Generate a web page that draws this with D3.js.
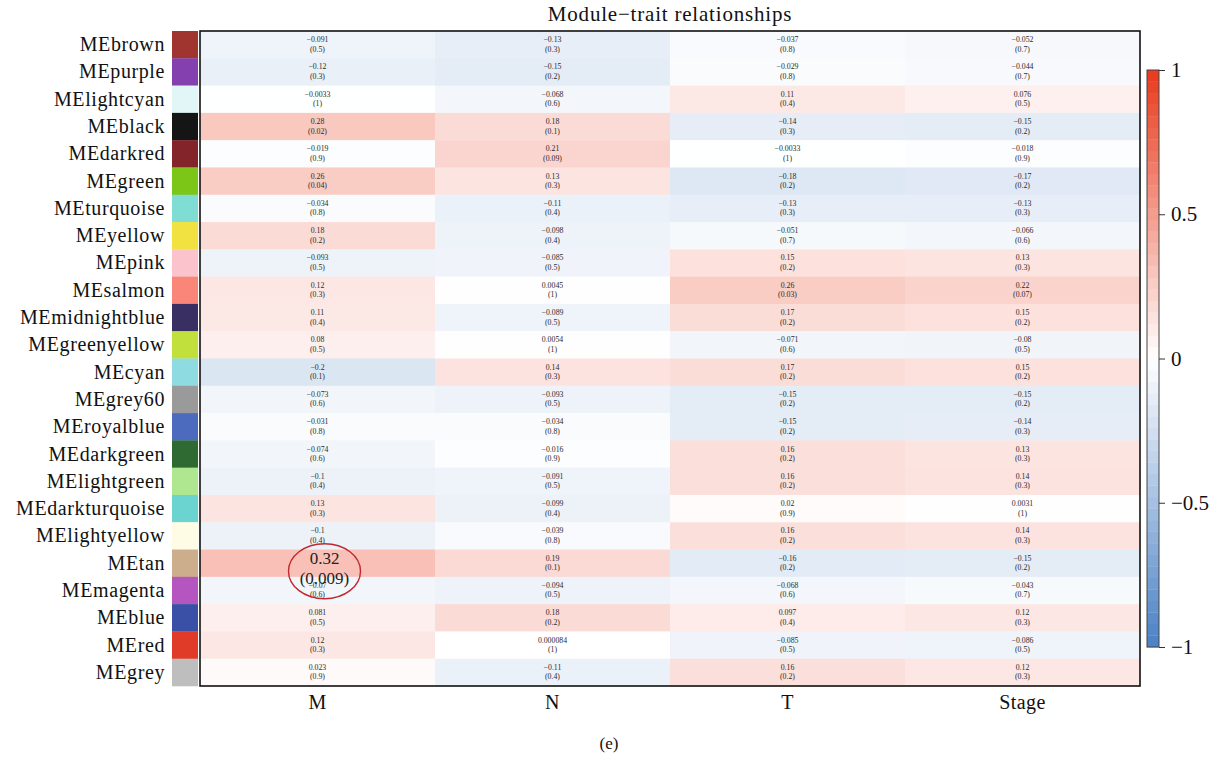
<!DOCTYPE html>
<html>
<head>
<meta charset="utf-8">
<script src="https://cdn.jsdelivr.net/npm/d3@7"></script>
<style>
  html, body { margin: 0; padding: 0; background: #fff; }
  svg { display: block; font-family: "Liberation Serif", "DejaVu Serif", serif; }
</style>
</head>
<body>
<svg id="chart" width="1217" height="757"></svg>
<script>
// Module eigengenes (rows) and clinical traits (columns)
const modules = ["MEbrown","MEpurple","MElightcyan","MEblack","MEdarkred","MEgreen","MEturquoise","MEyellow","MEpink","MEsalmon","MEmidnightblue","MEgreenyellow","MEcyan","MEgrey60","MEroyalblue","MEdarkgreen","MElightgreen","MEdarkturquoise","MElightyellow","MEtan","MEmagenta","MEblue","MEred","MEgrey"];
const moduleColors = ["#a0352f","#8540b0","#e2f6f8","#151515","#82242a","#7cc618","#80ddd3","#f1e242","#fbc4cd","#f98678","#3a2f63","#c2e03c","#8fdbe2","#9a9a9a","#4c6bbf","#2f6a33","#aee78f","#6bd3d0","#fefce4","#cdae8c","#b555c0","#3a4fa6","#e03a28","#bebebe"];
const traits = ["M","N","T","Stage"];

// Correlation per trait, in module order
const corM     = ["-0.091","-0.12","-0.0033","0.28","-0.019","0.26","-0.034","0.18","-0.093","0.12","0.11","0.08","-0.2","-0.073","-0.031","-0.074","-0.1","0.13","-0.1","0.32","-0.07","0.081","0.12","0.023"];
const corN     = ["-0.13","-0.15","-0.068","0.18","0.21","0.13","-0.11","-0.098","-0.085","0.0045","-0.089","0.0054","0.14","-0.093","-0.034","-0.016","-0.091","-0.099","-0.039","0.19","-0.094","0.18","0.000084","-0.11"];
const corT     = ["-0.037","-0.029","0.11","-0.14","-0.0033","-0.18","-0.13","-0.051","0.15","0.26","0.17","-0.071","0.17","-0.15","-0.15","0.16","0.16","0.02","0.16","-0.16","-0.068","0.097","-0.085","0.16"];
const corStage = ["-0.052","-0.044","0.076","-0.15","-0.018","-0.17","-0.13","-0.066","0.13","0.22","0.15","-0.08","0.15","-0.15","-0.14","0.13","0.14","0.0031","0.14","-0.15","-0.043","0.12","-0.086","0.12"];

// P-values per trait, in module order
const pM     = ["0.5","0.3","1","0.02","0.9","0.04","0.8","0.2","0.5","0.3","0.4","0.5","0.1","0.6","0.8","0.6","0.4","0.3","0.4","0.009","0.6","0.5","0.3","0.9"];
const pN     = ["0.3","0.2","0.6","0.1","0.09","0.3","0.4","0.4","0.5","1","0.5","1","0.3","0.5","0.8","0.9","0.5","0.4","0.8","0.1","0.5","0.2","1","0.4"];
const pT     = ["0.8","0.8","0.4","0.3","1","0.2","0.3","0.7","0.2","0.03","0.2","0.6","0.2","0.2","0.2","0.2","0.2","0.9","0.2","0.2","0.6","0.4","0.5","0.2"];
const pStage = ["0.7","0.7","0.5","0.2","0.9","0.2","0.3","0.6","0.3","0.07","0.2","0.5","0.2","0.2","0.3","0.3","0.3","1","0.3","0.2","0.7","0.3","0.5","0.3"];

const legendTicks = [1, 0.5, 0, -0.5, -1];
const highlight = { module: "MEtan", trait: "M" };

const corByTrait = { M: corM, N: corN, T: corT, Stage: corStage };
const pByTrait = { M: pM, N: pN, T: pT, Stage: pStage };

const cells = [];
traits.forEach(t => modules.forEach((m, i) => {
  cells.push({ module: m, trait: t, r: +corByTrait[t][i], rText: corByTrait[t][i], p: pByTrait[t][i] });
}));

const svg = d3.select("#chart");
const plotLeft = 200, plotRight = 1140, plotTop = 31, plotBottom = 686;

const x = d3.scaleBand().domain(traits).range([plotLeft, plotRight]);
const y = d3.scaleBand().domain(modules).range([plotTop, plotBottom]);
const color = d3.scaleLinear().domain([-1, 0, 1]).range(["#4a80c4", "#ffffff", "#e8391b"]);

const fmt = s => s.replace("-", "\u2212");

// Title
svg.append("text").attr("x", 670).attr("y", 21)
  .attr("text-anchor", "middle").attr("font-size", 21).attr("letter-spacing", 0.8).attr("fill", "#111")
  .text("Module\u2212trait relationships");

// Heatmap cells
svg.append("g").selectAll("rect").data(cells).join("rect")
  .attr("x", d => x(d.trait)).attr("y", d => y(d.module))
  .attr("width", x.bandwidth() + 0.5).attr("height", y.bandwidth() + 0.5)
  .attr("fill", d => color(d.r));

// Cell labels: correlation and (p-value)
const labels = svg.append("g").attr("fill", "#2a2a2a").attr("text-anchor", "middle").attr("font-size", 7.8);
cells.filter(d => !(d.module === highlight.module && d.trait === highlight.trait)).forEach(d => {
  const cx = x(d.trait) + x.bandwidth() / 2;
  const cy = y(d.module) + y.bandwidth() / 2;
  labels.append("text").attr("x", cx).attr("y", cy - 2.5).text(fmt(d.rText));
  labels.append("text").attr("x", cx).attr("y", cy + 7).text("(" + d.p + ")");
});

// Frame
svg.append("rect").attr("x", plotLeft).attr("y", plotTop).attr("width", plotRight - plotLeft).attr("height", plotBottom - plotTop)
  .attr("fill", "none").attr("stroke", "#111").attr("stroke-width", 1.6);

// Module colour swatches and names
svg.append("g").selectAll("rect").data(modules).join("rect")
  .attr("x", 172).attr("y", d => y(d)).attr("width", 26).attr("height", y.bandwidth() + 0.3)
  .attr("fill", (d, i) => moduleColors[i]);
svg.append("g").selectAll("text").data(modules).join("text")
  .attr("x", 165).attr("y", d => y(d) + y.bandwidth() / 2 + 6.5)
  .attr("text-anchor", "end").attr("font-size", 20).attr("letter-spacing", 0.6).attr("fill", "#111")
  .text(d => d);

// Trait names
svg.append("g").selectAll("text").data(traits).join("text")
  .attr("x", d => x(d) + x.bandwidth() / 2).attr("y", 709)
  .attr("text-anchor", "middle").attr("font-size", 20).attr("letter-spacing", 0.4).attr("fill", "#111")
  .text(d => d);

// Highlighted cell: enlarged values and ellipse
{
  const i = modules.indexOf(highlight.module);
  const cx = x(highlight.trait) + x.bandwidth() / 2 + 7;
  const cy = y(highlight.module) + y.bandwidth() / 2;
  const hl = svg.append("g").attr("text-anchor", "middle").attr("font-size", 17).attr("fill", "#222");
  hl.append("text").attr("x", cx).attr("y", cy + 0.5).text(corByTrait[highlight.trait][i]);
  hl.append("text").attr("x", cx).attr("y", cy + 21).text("(" + pByTrait[highlight.trait][i] + ")");
  svg.append("ellipse").attr("cx", cx).attr("cy", cy + 8).attr("rx", 36).attr("ry", 27.5)
    .attr("fill", "none").attr("stroke", "#c1272d").attr("stroke-width", 1.4);
}

// Colour legend
const lg = d3.scaleLinear().domain([-1, 1]).range([647, 70]);
const nSteps = 50;
const steps = d3.range(nSteps).map(k => -1 + (k + 0.5) * 2 / nSteps);
svg.append("g").selectAll("rect").data(steps).join("rect")
  .attr("x", 1147).attr("width", 12)
  .attr("y", v => lg(v + 1 / nSteps)).attr("height", v => lg(v - 1 / nSteps) - lg(v + 1 / nSteps) + 0.3)
  .attr("fill", v => color(v));
svg.append("rect").attr("x", 1147).attr("y", 70).attr("width", 12).attr("height", 577)
  .attr("fill", "none").attr("stroke", "#444").attr("stroke-width", 1);
const legAxis = d3.axisRight(lg).tickValues(legendTicks).tickSize(6).tickPadding(6)
  .tickFormat(v => fmt(String(v)));
const ga = svg.append("g").attr("transform", "translate(1159,0)").call(legAxis);
ga.select(".domain").remove();
ga.selectAll("line").attr("stroke", "#333");
ga.selectAll("text").attr("font-size", 21).attr("fill", "#111")
  .attr("font-family", "Liberation Serif, DejaVu Serif, serif");

// Panel label
svg.append("text").attr("x", 609).attr("y", 749).attr("text-anchor", "middle")
  .attr("font-size", 17).attr("fill", "#111").text("(e)");
</script>
</body>
</html>
